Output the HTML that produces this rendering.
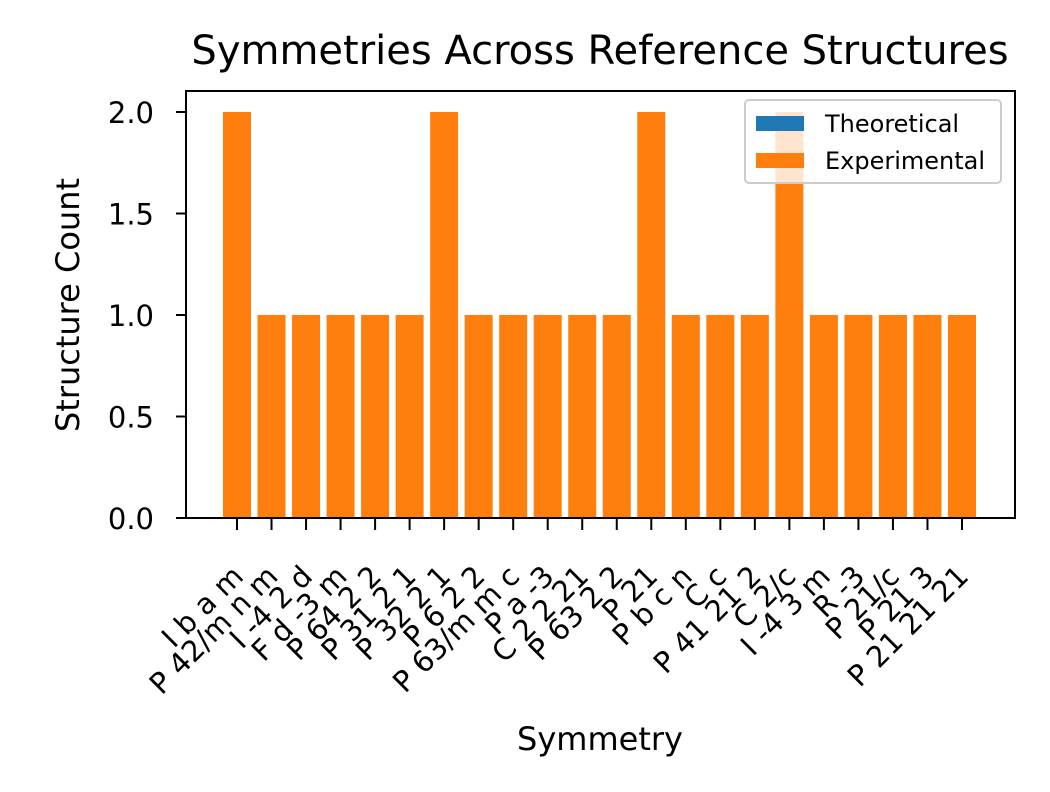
<!DOCTYPE html>
<html><head><meta charset="utf-8"><style>
body{margin:0;background:#fff}
svg text{font-family:"DejaVu Sans","Liberation Sans",sans-serif;fill:#000}
</style></head><body>
<svg id="chart" width="1050" height="787" xmlns="http://www.w3.org/2000/svg">
<rect width="1050" height="787" fill="#fff"/>
<text x="600" y="64" font-size="40" text-anchor="middle">Symmetries Across Reference Structures</text>
<g id="plot"></g>
<text x="600" y="750" font-size="32" text-anchor="middle">Symmetry</text>
<text transform="translate(79,305) rotate(-90)" font-size="32" text-anchor="middle">Structure Count</text>
<g>
<rect x="745" y="100" width="256" height="83" rx="4" fill="#fff" fill-opacity="0.8" stroke="#ccc" stroke-width="2"/>
<rect x="756" y="116" width="48" height="15" fill="#1f77b4"/>
<text x="825" y="132" font-size="24">Theoretical</text>
<rect x="756" y="153" width="48" height="15" fill="#ff7f0e"/>
<text x="825" y="169" font-size="24">Experimental</text>
</g>
</svg>
<script>
const categories=["I b a m","P 42/m n m","I -4 2 d","F d -3 m","P 64 2 2","P 31 2 1","P 32 2 1","P 6 2 2","P 63/m m c","P a -3","C 2 2 21","P 63 2 2","P 21","P b c n","C c","P 41 21 2","C 2/c","I -4 3 m","R -3","P 21/c","P 21 3","P 21 21 21"];
const theoretical=[0,0,0,0,0,0,0,0,0,0,0,0,0,0,0,0,0,0,0,0,0,0];
const experimental=[2,1,1,1,1,1,2,1,1,1,1,1,2,1,1,1,2,1,1,1,1,1];
const yTicks=[0,0.5,1,1.5,2];
const yTickLabels=["0.0","0.5","1.0","1.5","2.0"];
const NS="http://www.w3.org/2000/svg";
const L=186,R=1015,T=91,B=518;
const x0=237,step=(962-237)/(categories.length-1),bw=28;
const y=v=>B-v*203;
const g=document.getElementById('plot');
function mk(t,a){const e=document.createElementNS(NS,t);for(const k in a)e.setAttribute(k,a[k]);g.appendChild(e);return e;}
categories.forEach((c,i)=>{
 const cx=x0+i*step;
 const tb=theoretical[i],eb=experimental[i];
 const r1=mk('rect',{x:cx-bw/2,y:y(tb),width:bw,height:B-y(tb),fill:'#1f77b4'});
 
 
 const r2=mk('rect',{x:cx-bw/2,y:y(tb+eb),width:bw,height:y(tb)-y(tb+eb),fill:'#ff7f0e'});
 
 
 const tk=mk('line',{x1:cx,x2:cx,y1:B,y2:B+12,stroke:'#000','stroke-width':2});
 
 
 const t=mk('text',{transform:`translate(${cx+8},${B+60}) rotate(-45)`,'font-size':29,'text-anchor':'end'});
 t.textContent=c;
 
 
});
yTicks.forEach((v,i)=>{
 const tk=mk('line',{x1:L-10,x2:L,y1:y(v),y2:y(v),stroke:'#000','stroke-width':2});
 
 
 const t=mk('text',{x:L-32,y:y(v)+11,'font-size':29,'text-anchor':'end'});
 t.textContent=yTickLabels[i];
 
 
});
const fr=mk('rect',{x:L,y:T,width:R-L,height:B-T,fill:'none',stroke:'#000','stroke-width':2});


</script>
</body></html>
